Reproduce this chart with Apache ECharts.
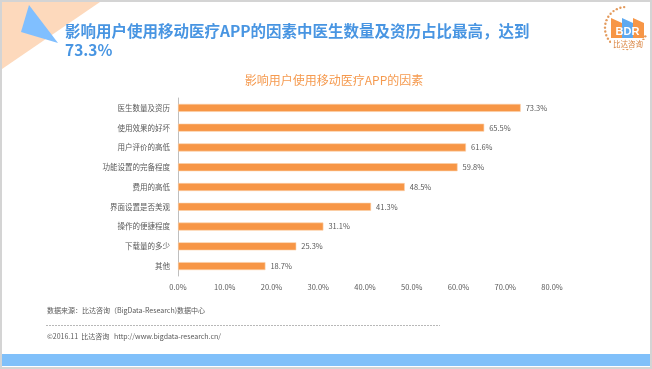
<!DOCTYPE html>
<html><head><meta charset="utf-8">
<script src="https://cdn.jsdelivr.net/npm/echarts@6/dist/echarts.min.js"></script>
<style>html,body{margin:0;padding:0;background:#fff}#c{width:652px;height:369px}</style>
</head><body><div id="c"></div>
<script>
const categories = ['医生数量及资历','使用效果的好坏','用户评价的高低','功能设置的完备程度','费用的高低','界面设置是否美观','操作的便捷程度','下载量的多少','其他'];
const values = [73.3, 65.5, 61.6, 59.8, 48.5, 41.3, 31.1, 25.3, 18.7];
const xTicks = [0, 10, 20, 30, 40, 50, 60, 70, 80];
const mainTitle = '影响用户使用移动医疗APP的因素中医生数量及资历占比最高，达到\n73.3%';
const chartTitle = '影响用户使用移动医疗APP的因素';
const sourceText = '数据来源：比达咨询（BigData-Research)数据中心';
const copyText = '©2016.11  比达咨询   http://www.bigdata-research.cn/';

const FONT = '"Noto Sans CJK SC","Microsoft YaHei",sans-serif';
const chart = echarts.init(document.getElementById('c'), null, {renderer:'canvas'});

function bldg(x, color){
  return {type:'polygon', shape:{points:[[x,18],[x+11,23],[x+11,38],[x,38]]}, style:{fill:color}, z:10};
}
const dots = [];
for (let i = 0; i < 24; i++) {
  const a = (95 + i * 10.5) * Math.PI / 180;
  dots.push({type:'circle', shape:{cx:626 + 21*Math.cos(a), cy:28 - 21*Math.sin(a), r:1.2}, style:{fill:'#E39A5C'}, z:9});
}

chart.setOption({
  backgroundColor:'#fff',
  animation:false,
  grid:{left:178, right:100, top:98, bottom:93, containLabel:false},
  xAxis:{
    type:'value', min:0, max:80, interval:10,
    axisLine:{show:false}, axisTick:{show:false}, splitLine:{show:false},
    axisLabel:{color:'#595959', fontSize:7.5, fontFamily:FONT, margin:7,
      formatter:v => xTicks.includes(v) ? v.toFixed(1)+'%' : ''}
  },
  yAxis:{
    type:'category', data:categories, inverse:true,
    axisLine:{show:true, lineStyle:{color:'#BFBFBF', width:1}},
    axisTick:{show:false},
    axisLabel:{color:'#595959', fontSize:7.5, fontFamily:FONT, margin:8}
  },
  series:[{
    type:'bar', data:values, barWidth:8,
    itemStyle:{color:'#F79646', borderColor:'#FCD0A8', borderWidth:0.6},
    label:{show:true, position:'right', distance:5, color:'#595959', fontSize:7.5, fontFamily:FONT,
      formatter:p => p.value.toFixed(1)+'%'}
  }],
  graphic:[
    {type:'rect', shape:{x:0,y:0,width:652,height:369}, style:{fill:'none', stroke:'#D4D4D4', lineWidth:4}, z:1},
    {type:'polygon', shape:{points:[[2,2],[100,2],[2,69]]}, style:{fill:'#FDD9BC'}, z:2},
    {type:'polygon', shape:{points:[[29,5],[58,43],[21,32]]}, style:{fill:'#80BFFF'}, z:3},
    {type:'text', left:65, top:22, style:{text:mainTitle, fill:'#4895E2', font:'bold 15.5px '+FONT, lineHeight:19}, z:5},
    {type:'text', x:334, y:80, style:{text:chartTitle, fill:'#F59A4F', font:'12px '+FONT, align:'center', verticalAlign:'middle'}, z:5},
    {type:'text', left:47, top:307, style:{text:sourceText, fill:'#595959', font:'7px '+FONT}, z:5},
    {type:'line', shape:{x1:46,y1:325.5,x2:440,y2:325.5}, style:{stroke:'#A6A6A6', lineWidth:0.8, lineDash:[2,1]}, z:5},
    {type:'text', left:47, top:333, style:{text:copyText, fill:'#595959', font:'7px '+FONT}, z:5},
    {type:'rect', shape:{x:2,y:354,width:648,height:12}, style:{fill:'#80C0FA'}, z:5},
    ...dots,
    {type:'rect', shape:{x:611,y:30,width:33,height:8}, style:{fill:'#F79646'}, z:10},
    bldg(611,'#F79646'), bldg(622,'#5DA9F0'), bldg(633,'#F79646'),
    {type:'text', x:627.5, y:32, style:{text:'BDR', fill:'#fff', font:'bold 11px Arial', align:'center', verticalAlign:'middle'}, z:11},
    {type:'rect', shape:{x:611,y:40,width:34,height:9}, style:{fill:'#fff'}, z:10},
    {type:'text', x:628, y:44.5, style:{text:'比达咨询', fill:'#D9823D', font:'7.5px '+FONT, align:'center', verticalAlign:'middle'}, z:11}
  ]
});
</script></body></html>
